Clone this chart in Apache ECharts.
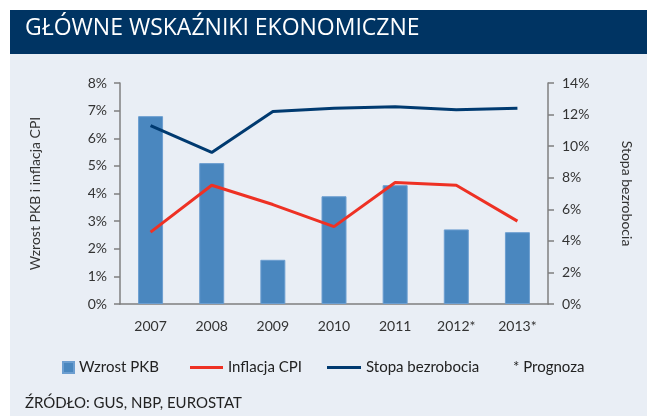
<!DOCTYPE html>
<html><head><meta charset="utf-8">
<script src="https://cdn.jsdelivr.net/npm/echarts@6/dist/echarts.min.js"></script>
<style>html,body{margin:0;padding:0;background:#fff}#c{width:647px;height:416px}</style>
</head><body><div id="c"></div>
<script>
const categories = ['2007','2008','2009','2010','2011','2012*','2013*'];
const gdpGrowth = [6.8, 5.1, 1.6, 3.9, 4.3, 2.7, 2.6];
const cpiInflation = [2.6, 4.3, 3.6, 2.8, 4.4, 4.3, 3.0];
const unemployment = [11.3, 9.6, 12.2, 12.4, 12.5, 12.3, 12.4];
const leftTicks = {min: 0, max: 8, interval: 1};
const rightTicks = {min: 0, max: 14, interval: 2};

const FONT = 'Lato, "Open Sans", sans-serif';
const chart = echarts.init(document.getElementById('c'), null, {renderer: 'canvas'});
const axisLineStyle = {color: '#7f7f7f', width: 1.5};
const legendText = {fontSize: 15, color: '#222', fontFamily: FONT};
chart.setOption({
  backgroundColor: '#ffffff',
  textStyle: {fontFamily: FONT},
  animation: false,
  graphic: [
    {type: 'rect', z: -10, shape: {x: 10, y: 54, width: 637, height: 362}, style: {fill: '#e9eef5'}},
    {type: 'rect', z: -10, shape: {x: 10, y: 10, width: 637, height: 44}, style: {fill: '#003463'}},
    {type: 'text', left: 25, top: 17, style: {text: 'GŁÓWNE WSKAŹNIKI EKONOMICZNE', fill: '#ffffff', font: '23px "Open Sans", sans-serif'}},
    {type: 'text', left: 513, top: 360, style: {text: '* Prognoza', fill: '#222222', font: '15px ' + FONT}},
    {type: 'text', left: 25, top: 396, style: {text: 'ŹRÓDŁO: GUS, NBP, EUROSTAT', fill: '#222222', font: '15px ' + FONT}}
  ],
  legend: [
    {data: ['Wzrost PKB'], left: 62, top: 360, padding: 0, itemWidth: 11, itemHeight: 11, icon: 'rect', textStyle: legendText},
    {data: ['Inflacja CPI'], left: 190, top: 360, padding: 0, itemWidth: 33, itemHeight: 3, icon: 'rect', textStyle: legendText},
    {data: ['Stopa bezrobocia'], left: 327, top: 360, padding: 0, itemWidth: 34, itemHeight: 3, icon: 'rect', textStyle: legendText}
  ],
  grid: {left: 120, right: 99, top: 83, bottom: 112, containLabel: false},
  xAxis: {
    type: 'category', data: categories,
    axisLine: {lineStyle: axisLineStyle},
    axisTick: {show: false},
    axisLabel: {color: '#333', fontSize: 14, margin: 15, fontFamily: FONT}
  },
  yAxis: [
    {type: 'value', min: leftTicks.min, max: leftTicks.max, interval: leftTicks.interval, position: 'left',
     name: 'Wzrost PKB i inflacja CPI', nameLocation: 'middle', nameGap: 78,
     nameTextStyle: {fontSize: 14, color: '#333', fontFamily: FONT},
     axisLine: {show: true, lineStyle: axisLineStyle},
     axisTick: {show: true, length: 6, lineStyle: axisLineStyle},
     splitLine: {show: false},
     axisLabel: {formatter: '{value}%', color: '#333', fontSize: 14, margin: 13, fontFamily: FONT}},
    {type: 'value', min: rightTicks.min, max: rightTicks.max, interval: rightTicks.interval, position: 'right',
     name: 'Stopa bezrobocia', nameLocation: 'middle', nameGap: 72, nameRotate: -90,
     nameTextStyle: {fontSize: 14, color: '#333', fontFamily: FONT},
     axisLine: {show: true, lineStyle: axisLineStyle},
     axisTick: {show: true, length: 6, lineStyle: axisLineStyle},
     splitLine: {show: false},
     axisLabel: {formatter: '{value}%', color: '#333', fontSize: 14, margin: 14, fontFamily: FONT}}
  ],
  series: [
    {name: 'Wzrost PKB', type: 'bar', data: gdpGrowth, yAxisIndex: 0, barWidth: 25,
     itemStyle: {color: '#4a87bf', borderColor: '#6c9ed0', borderWidth: 1}},
    {name: 'Inflacja CPI', type: 'line', data: cpiInflation, yAxisIndex: 0, symbol: 'none',
     lineStyle: {color: '#ee3124', width: 3}, itemStyle: {color: '#ee3124'}},
    {name: 'Stopa bezrobocia', type: 'line', data: unemployment, yAxisIndex: 1, symbol: 'none',
     lineStyle: {color: '#003a70', width: 3}, itemStyle: {color: '#003a70'}}
  ]
});
</script></body></html>
